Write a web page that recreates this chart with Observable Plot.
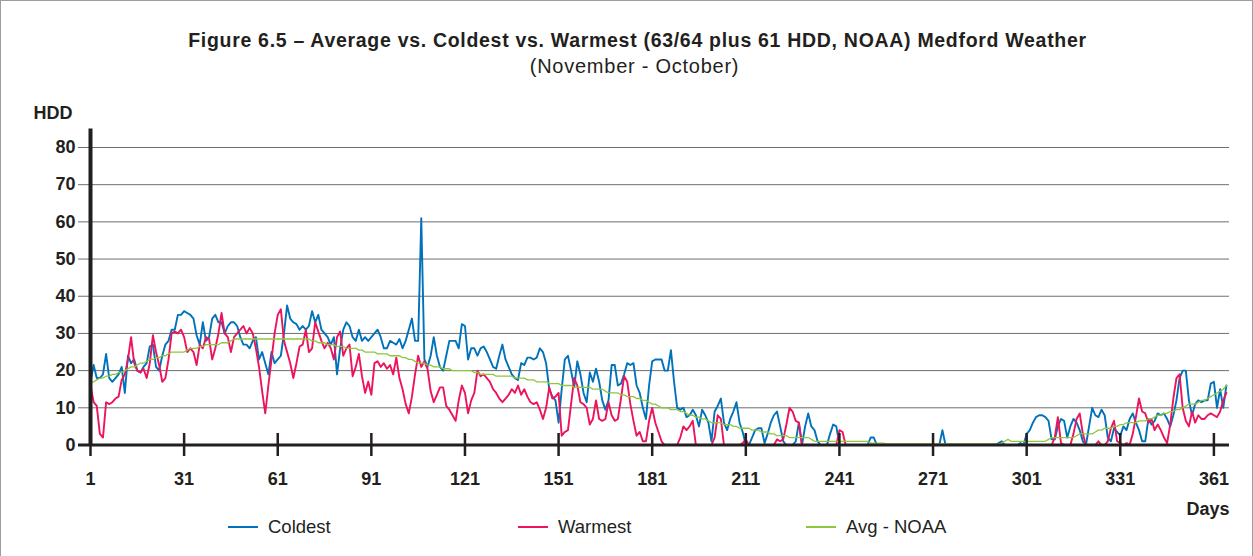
<!DOCTYPE html>
<html><head><meta charset="utf-8">
<script src="https://cdn.jsdelivr.net/npm/d3@7"></script>
<script src="https://cdn.jsdelivr.net/npm/@observablehq/plot@0.6"></script>
<style>
body{margin:0;background:#fff;font-family:"Liberation Sans",Arial,Helvetica,sans-serif;color:#231f20;}
#wrap{position:relative;width:1253px;height:556px;overflow:hidden;}
#frame{position:absolute;left:0;top:0;width:1251px;height:570px;border:1px solid #9d9d9d;}
.t{position:absolute;width:1253px;text-align:center;white-space:nowrap;}
#title{left:11px;top:29px;font-weight:bold;font-size:19.5px;letter-spacing:0.7px;}
#subtitle{left:8px;top:55px;font-size:20px;letter-spacing:0.75px;}
#chart{position:absolute;left:0;top:95px;}
.leg{position:absolute;top:516px;font-size:18.5px;white-space:nowrap;}
.sw{position:absolute;top:526px;height:1.6px;width:30px;}
</style></head>
<body>
<div id="wrap">
<div id="frame"></div>
<div class="t" id="title">Figure 6.5 – Average vs. Coldest vs. Warmest (63/64 plus 61 HDD, NOAA) Medford Weather</div>
<div class="t" id="subtitle">(November - October)</div>
<div id="chart"></div>
<div class="sw" style="left:228px;background:#0072bc"></div><div class="leg" style="left:268px">Coldest</div>
<div class="sw" style="left:518px;background:#ed145b"></div><div class="leg" style="left:558px">Warmest</div>
<div class="sw" style="left:806px;background:#8dc63f"></div><div class="leg" style="left:846px">Avg - NOAA</div>
</div>
<script>
const xTicks = [1, 31, 61, 91, 121, 151, 181, 211, 241, 271, 301, 331, 361];
const yTicks = [0, 10, 20, 30, 40, 50, 60, 70, 80];

const coldest = [
17,21.5,18,18,19,24.5,18,17,18,19,
21,14,24,22,23,20,19.5,21,22,26.5,
27,21,20,24,27,28,31,31,35,35,
36,35.5,35,34,29.5,27,33,28,29,34,
35,33,33,30,32,33,33,32,29,27,
27,26,28,29,23,25,22,19,25,22,
23,24,30,37.5,34,33,32.5,31,32,31,
32,36,33,35,31,30,29,27,29,19,
26,31,33,32,29,28,31,28,29,28,
29,30,31,29,26,26,28,27.5,27,28.5,
26,28,31,34,28,28,61,23,21,24,
29,24,21,20,24,28,28,28,26,32.5,
32,23,26,26,24,26,26.5,25,23,21,
20.5,24,27,23,21,19,18,17.5,22,21.5,
23.5,23.5,23,23.5,26,25,22,15,13,12,
6,15,23,24,20,15.5,22.5,19,14,11.5,
19.5,17,20.5,17,12,9.5,12,21.5,21.5,16,
16.5,19,22,21.5,22,16,14,10,7,16,
22.5,23,23,23,20,20,25.5,17,10,9.5,
10,7.5,8,9.5,8,5,9.5,8,6,1,
9,10.5,12.5,6,4,7,9,11.5,6,3.5,
0,0,2,4,4.5,4.5,0.5,3,6,8,
9,5,1,0,0,0,1,6,0,5,
8.5,5,4,1,0,0,0,3,5.5,5,
0,0,0,0,0,0,0,0,0,0,
2,2,0,0,0,0,0,0,0,0,
0,0,0,0,0,0,0,0,0,0,
0,0,0,4,0,0,0,0,0,0,
0,0,0,0,0,0,0,0,0,0,
0,0.5,1,0,0,0,0,0,0.5,0,
3,4,6,7.5,8,8,7.5,6.5,1.5,1.5,
5,7,6.5,2,5,7,6,4,1,0,
5,10,8,7.5,9.5,8,2,1,4.5,3.5,
2.5,5,4,7,8.5,6,4,1,1,7,
5.5,6.5,8.5,8,8.5,7,5,8,12,18,
20,20,12,8,11,12,11.5,12,12,16.5,
17,10,15,10,16
];

const warmest = [
16,11.5,10.5,3,2,11.5,11,11.5,12.5,13,
17.5,19,23,29,22,20,19.5,20.5,18,22,
29.5,25,21.5,17,18,23,30,30.5,30,31,
29,25,26,25,21.5,27,26,29,28.5,23,
26,30,35.5,30,29,25,29,30,31,32,
30,31.5,30,26,21,14.5,8.5,16,23,30,
35,36.5,28,25,22,18,22,26.5,27,31,
25,26,33,30.5,28,26,27.5,26,23,29,
30.5,24,26,27,18.5,21,24.5,18.5,14,17,
13.5,22,22.5,21,22,20.5,21.5,19,23.5,18,
15,11,8.5,13,19,24,21,22.5,20.5,14.5,
11.5,13.5,15.5,15.5,10.5,9.5,8,6.5,12,16,
14,8.5,12,14,20,18.5,19,18,17,15,
14,12.5,11.5,12.5,13.5,15,14,16,13.5,15,
13,11.5,11,11.5,9.5,7,10,15.5,12.5,13,
14,2.5,3.5,4,11,18,16,11.5,11,10,
5.5,7,12,7,6.5,7,11.5,8,6.5,7,
12.5,18.5,17,11,6.5,2.5,3.5,1,1,6.5,
10,6,3.5,1,0,0,0,0,0,2,
5,4,5,6.5,0,0,0,0,0,0,
2,8,7,0,0,0,0,0,0,0.5,
1.5,0,0,0,0,0,0,0,0,0,
1.5,1,1.5,5.5,10,9,6.5,6,0,0,
0,0,0,0,0,0,0,0,0,0,
4,3.5,0,0,0,0,0,0,0,0,
0,0,0,0,0,0,0,0,0,0,
0,0,0,0,0,0,0,0,0,0,
0,0,0,0,0,0,0,0,0,0,
0,0,0,0,0,0,0,0,0,0,
0,0,0,0,0,0,0,0,0,0,
0,0,0,0,0,0,0,0,0,2,
7.5,0.5,0,0,0,3,7,8.5,3,0,
0,0,0,1,0,0,1,4.5,6.5,1,
0.5,0,0.5,0,3,7.5,12.5,9,8.5,6,
7,4,5.5,4,2,0.5,5.5,12.5,18,19,
10,6.5,5,9,6,8,7,7,8,8.5,
8,7.5,9,12,14
];

const avgNoaa = [
17,17,17.5,18,18,18.5,18.5,19,19,19.5,
19.5,20,20.5,21,21,21.5,22,22,22.5,23,
23,23.5,23.5,24,24,24.5,25,25,25,25,
25,25.5,26,26,26,26.5,26.5,27,27,27,
27,27,27.5,27.5,27.5,28,28.5,28.5,28.5,28.5,
28.5,28.5,28.5,28.5,28.5,28.5,28.5,28.5,28.5,28.5,
28.5,28.5,28.5,28.5,28.5,28.5,28.5,28.5,28.5,28.5,
28.5,28,28,27.5,27.5,27.5,27,27,27,26.5,
26.5,26.5,26,26,26,26,25.5,25.5,25,25,
25,25,24.5,24.5,24.5,24.5,24,24,24,24,
23.5,23.5,23,23,22.5,22,22,22,21.5,21.5,
21,21,21,20.5,20.5,20.5,20,20,20,20,
20,20,20,19.5,19.5,19,19,19,19,19,
18.5,18.5,18.5,18.5,18.5,18.5,18,18,18,18,
17.5,17.5,17.5,17,17,17,17,16.5,16.5,16.5,
16.5,16,16,16,16,15.5,15.5,15.5,15.5,15.5,
15.5,15,15,15,15,14.5,14,14,14,14,
13.5,13.5,13,13,13,12.5,12.5,12,12,11.5,
11,11,10.5,10,10,10,9.5,9.5,9.5,9,
9,8.5,8,8,7.5,7.5,7,7,6.5,6,
6,6,6,5.5,5.5,5.5,5,5,4.5,4.5,
4.5,4.5,4,4,4,3.5,3.5,3.5,3,3,
2.5,2.5,2.5,2.5,2,2,2,2,2,2,
2,1.5,1,1,1,1,1,1,1,1,
1,1,1,1,1,1,1,1,1,1,
0.5,0.5,0.5,0.5,0.5,0.3,0.3,0.3,0.3,0.3,
0.3,0.3,0.3,0.3,0.3,0.3,0.3,0.3,0.3,0.3,
0.3,0.3,0.3,0.3,0.3,0.3,0.3,0.3,0.3,0.3,
0.3,0.3,0.3,0.3,0.3,0.3,0.3,0.3,0.3,0.3,
0.3,0.3,0.5,1,1.5,1,1,1,1,1,
1,1,1,1,1,1,1,1.5,2,2,
2,2,2,2,2,2,2.5,3,3,3,
3,3,3.5,4,4,4.5,4.5,4.5,5,5,
5.5,5.5,6,6,6,6,6.5,6.5,6.5,7,
7,7.5,8,8,8.5,8.5,9,9,9.5,9.5,
10,10.5,11,11,11,11.5,12,12,12.5,13,
13.5,14,14.5,15,16
];

const data = coldest.map((c, i) => ({day: i + 1, coldest: c, warmest: warmest[i], avg: avgNoaa[i]}));

const chart = Plot.plot({
  width: 1253,
  height: 425,
  marginLeft: 90,
  marginRight: 24,
  marginTop: 33.4,
  marginBottom: 75.5,
  x: {domain: [1, 366]},
  y: {domain: [0, 85]},
  style: {fontFamily: "'Liberation Sans', Arial, sans-serif", fontSize: "18px", color: "#231f20", background: "transparent", overflow: "visible"},
  marks: [
    Plot.ruleY(yTicks.filter(d => d > 0), {stroke: "#6d6e71", strokeWidth: 1, insetLeft: -12}),
    Plot.line(data, {x: "day", y: "coldest", stroke: "#0072bc", strokeWidth: 1.9}),
    Plot.line(data, {x: "day", y: "warmest", stroke: "#ed145b", strokeWidth: 1.9}),
    Plot.line(data, {x: "day", y: "avg", stroke: "#8dc63f", strokeWidth: 1.3}),
    Plot.ruleY([0], {stroke: "#231f20", strokeWidth: 3, insetLeft: -12}),
    Plot.ruleX([1], {stroke: "#231f20", strokeWidth: 4}),
    Plot.ruleX(xTicks, {y1: 0, y2: 0, insetTop: -11.5, insetBottom: -11.5, stroke: "#231f20", strokeWidth: 2.5}),
    Plot.axisY(yTicks, {tickSize: 0, tickPadding: 15, fontWeight: "bold", label: null}),
    Plot.axisX(xTicks, {tickSize: 0, tickPadding: 27.5, fontWeight: "bold", label: null}),
    Plot.text(["HDD"], {text: d => d, frameAnchor: "top-left", textAnchor: "start", dx: -57, dy: -22.4, fontWeight: "bold", fontSize: 18}),
    Plot.text(["Days"], {text: d => d, frameAnchor: "bottom-right", textAnchor: "end", dx: 0, dy: 69.5, fontWeight: "bold"})
  ]
});
document.getElementById("chart").appendChild(chart);
</script>
</body></html>
